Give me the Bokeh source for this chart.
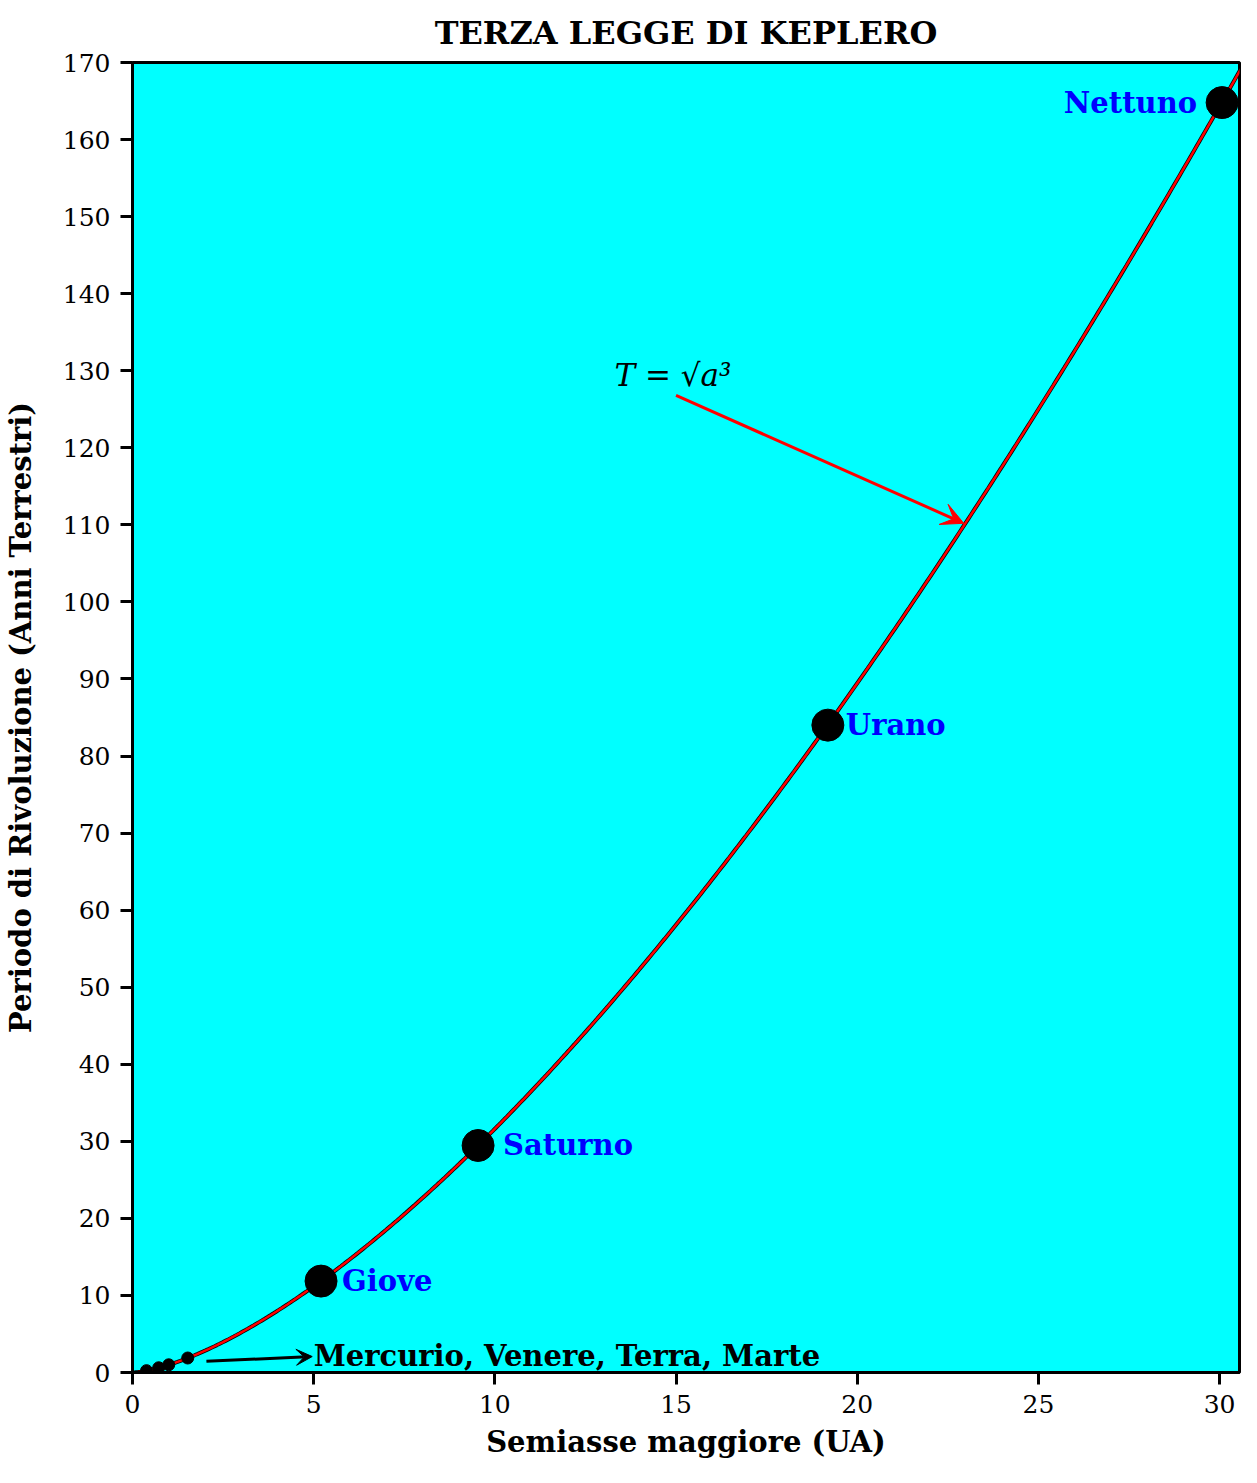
import numpy as np
from bokeh.plotting import figure
from bokeh.models import Range1d, FixedTicker, Arrow, VeeHead, ColumnDataSource
from bokeh.core.properties import value
from bokeh.embed import file_html
from bokeh.resources import INLINE

# ---- data ----
inner_names = ["Mercurio", "Venere", "Terra", "Marte"]
inner_a = [0.387, 0.723, 1.0, 1.524]
inner_T = [0.241, 0.615, 1.0, 1.881]

outer_names = ["Giove", "Saturno", "Urano", "Nettuno"]
outer_a = [5.203, 9.537, 19.19, 30.07]
outer_T = [11.86, 29.46, 84.01, 164.8]

x_ticks = [0, 5, 10, 15, 20, 25, 30]
y_ticks = list(range(0, 171, 10))

# theoretical law T = sqrt(a^3)
curve_a = np.linspace(0, 31, 400)
curve_T = np.sqrt(curve_a ** 3)

# annotations
law_text = ["T = \u221aa\u00b3"]
law_pos = [13.3, 129.5]
law_arrow = [15.0, 126.8, 22.94, 110.2]
inner_text = ["Mercurio, Venere, Terra, Marte"]
inner_label_pos = [5.0, 2.2]
inner_arrow = [2.04, 1.45, 4.96, 2.07]

SERIF = "DejaVu Serif"

p = figure(width=1241, height=1467,
           x_range=Range1d(0, 30.55), y_range=Range1d(0, 170),
           output_backend="svg", toolbar_location=None,
           min_border_left=131, min_border_right=2,
           min_border_top=61, min_border_bottom=95)

p.background_fill_color = "#00FFFF"
p.border_fill_color = "white"
p.outline_line_color = "black"
p.outline_line_width = 3
p.xgrid.visible = False
p.ygrid.visible = False

p.title.text = "TERZA LEGGE DI KEPLERO"
p.title.align = "center"
p.title.text_color = "black"
p.title.text_font = SERIF
p.title.text_font_style = "bold"
p.title.text_font_size = "32px"
p.title.standoff = 22

p.xaxis.ticker = FixedTicker(ticks=x_ticks)
p.yaxis.ticker = FixedTicker(ticks=y_ticks)
p.xaxis.axis_label = "Semiasse maggiore (UA)"
p.yaxis.axis_label = "Periodo di Rivoluzione (Anni Terrestri)"

for ax in (p.xaxis, p.yaxis):
    ax.axis_line_width = 3
    ax.axis_line_color = "black"
    ax.major_tick_line_width = 3
    ax.major_tick_line_color = "black"
    ax.major_tick_out = 12
    ax.major_tick_in = 0
    ax.minor_tick_out = 0
    ax.minor_tick_in = 0
    ax.major_label_text_font = SERIF
    ax.major_label_text_font_size = "25px"
    ax.major_label_text_color = "black"
    ax.major_label_standoff = 10
    ax.axis_label_text_font = SERIF
    ax.axis_label_text_font_style = "bold"
    ax.axis_label_text_font_size = "29px"
    ax.axis_label_text_color = "black"
p.xaxis.axis_label_standoff = 9
p.yaxis.axis_label_standoff = 22

# curves
p.line(curve_a, curve_T, line_color="black", line_width=4)
p.line(curve_a, curve_T, line_color="red", line_width=2.5)

# planets
p.scatter(inner_a, inner_T, size=12, marker="circle", fill_color="black", line_color="black")
p.scatter(outer_a, outer_T, size=32, marker="circle", fill_color="black", line_color="black")

# planet labels
src = ColumnDataSource(dict(x=outer_a, y=outer_T, t=outer_names,
                            off=[21, 25, 18, -25],
                            al=["left", "left", "left", "right"]))
p.text(x="x", y="y", text="t", source=src, x_offset="off", text_align="al",
       text_baseline="middle", text_color="#0000FF",
       text_font=value(SERIF), text_font_style="bold", text_font_size="29px")

# inner planets label + arrow
p.text(x=[inner_label_pos[0]], y=[inner_label_pos[1]], text=inner_text,
       text_align="left", text_baseline="middle", text_color="black",
       text_font=value(SERIF), text_font_style="bold", text_font_size="29px")
p.add_layout(Arrow(end=VeeHead(size=16, fill_color="black", line_color="black", line_width=1),
                   x_start=inner_arrow[0], y_start=inner_arrow[1],
                   x_end=inner_arrow[2], y_end=inner_arrow[3],
                   line_color="black", line_width=3))

# law label + arrow
p.text(x=[law_pos[0]], y=[law_pos[1]], text=law_text,
       text_align="left", text_baseline="middle", text_color="black",
       text_font=value(SERIF), text_font_style="italic", text_font_size="31px")
p.add_layout(Arrow(end=VeeHead(size=22, fill_color="red", line_color="red", line_width=1),
                   x_start=law_arrow[0], y_start=law_arrow[1],
                   x_end=law_arrow[2], y_end=law_arrow[3],
                   line_color="red", line_width=3))

open("out.html", "w").write(file_html(p, INLINE))
